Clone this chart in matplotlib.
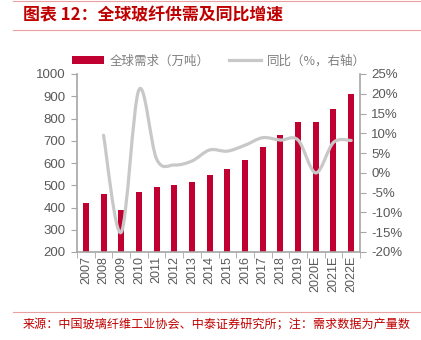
import matplotlib
matplotlib.use("Agg")
import matplotlib.pyplot as plt
import numpy as np
from matplotlib.path import Path
from matplotlib.patches import PathPatch
from matplotlib.lines import Line2D
from matplotlib.patches import Patch
from matplotlib.ticker import FuncFormatter

plt.rcParams['font.family'] = ['Liberation Sans', 'Noto Sans CJK SC', 'DejaVu Sans']

years = ['2007', '2008', '2009', '2010', '2011', '2012', '2013', '2014', '2015',
         '2016', '2017', '2018', '2019', '2020E', '2021E', '2022E']
demand = [420, 460, 390, 470, 490, 500, 515, 545, 575, 615, 670, 725, 783, 783, 841, 910]
yoy_years = years[1:]
yoy = [9.5, -15.0, 21.0, 3.5, 2.0, 3.0, 5.8, 5.5, 7.0, 8.9, 8.3, 8.3, 0.0, 7.7, 8.2]

title = '图表 12：全球玻纤供需及同比增速'
footer = '来源：中国玻璃纤维工业协会、中泰证券研究所；注：需求数据为产量数'
bar_label = '全球需求（万吨）'
line_label = '同比（%，右轴）'

bar_color = '#C00030'
line_color = '#C8C8C8'
tick_color = '#595959'
spine_color = '#A6A6A6'
red_text = '#C00000'
rule_color = '#E8A0A0'

fig = plt.figure(figsize=(4.21, 3.40), dpi=100)
ax = fig.add_axes([77/421, 1-252/340, (360-77)/421, (252-74)/340])
x = np.arange(len(years))
ax.bar(x, demand, width=0.34, color=bar_color, zorder=2)
ax.set_xlim(-0.5, len(years)-0.5)
ax.set_ylim(200, 1000)
ax.set_yticks(range(200, 1001, 100))
ax.set_xticks(x)
ax.set_xticklabels(years, rotation=90)
ax.set_xticks(np.arange(-0.5, len(years), 1), minor=True)
ax.tick_params(axis='x', which='major', length=0, pad=3, labelsize=9, labelcolor=tick_color)
ax.tick_params(axis='x', which='minor', length=4, color=spine_color, direction='out')
ax.tick_params(axis='y', length=4, color=spine_color, labelsize=9.5, labelcolor=tick_color, pad=4)
for s in ['top', 'right']:
    ax.spines[s].set_visible(False)
for s in ['left', 'bottom']:
    ax.spines[s].set_color(spine_color)
    ax.spines[s].set_linewidth(1.2)

ax2 = ax.twinx()
ax2.set_ylim(-20, 25)
ax2.set_yticks(range(-20, 26, 5))
ax2.yaxis.set_major_formatter(FuncFormatter(lambda v, p: f'{int(v)}%'))
ax2.tick_params(axis='y', length=4, color=spine_color, labelsize=9.5, labelcolor=tick_color, pad=4)
for s in ['top', 'left', 'bottom']:
    ax2.spines[s].set_visible(False)
ax2.spines['right'].set_color(spine_color)
ax2.spines['right'].set_linewidth(1.2)

# smooth line via cubic Bezier segments (Catmull-Rom style control points)
px = np.array([years.index(y) for y in yoy_years], dtype=float)
py = np.array(yoy, dtype=float)
P = np.column_stack([px, py])
verts = [tuple(P[0])]
codes = [Path.MOVETO]
n = len(P)
for i in range(n-1):
    p0 = P[i-1] if i > 0 else P[i]
    p1 = P[i]
    p2 = P[i+1]
    p3 = P[i+2] if i+2 < n else P[i+1]
    c1 = p1 + (p2 - p0)/6.0
    c2 = p2 - (p3 - p1)/6.0
    verts += [tuple(c1), tuple(c2), tuple(p2)]
    codes += [Path.CURVE4]*3
path = Path(verts, codes)
ax2.add_patch(PathPatch(path, facecolor='none', edgecolor=line_color, lw=2.3, zorder=3, capstyle='round'))

# legend
handles = [Patch(facecolor=bar_color, edgecolor='none'),
           Line2D([0], [0], color=line_color, lw=2.3)]
leg = fig.legend(handles, [bar_label, line_label], loc='center', bbox_to_anchor=(219/421, 1-61/340),
                 ncol=2, frameon=False, handlelength=2.6, handleheight=0.6,
                 columnspacing=1.5, handletextpad=0.45, borderpad=0, borderaxespad=0,
                 prop={'family': ['Noto Sans CJK SC', 'DejaVu Sans'], 'size': 9})
for t in leg.get_texts():
    t.set_color('#7F7F7F')

# title and rules
fig.add_artist(Line2D([13/421, 420/421], [1-1/340, 1-1/340], color=rule_color, lw=0.8))
fig.add_artist(Line2D([13/421, 420/421], [1-30/340, 1-30/340], color=rule_color, lw=0.8))
fig.add_artist(Line2D([13/421, 420/421], [1-312/340, 1-312/340], color=rule_color, lw=0.8))
fig.text(23/421, 1-15/340, title, color=red_text, fontsize=12.2, fontweight='bold', style='italic',
         va='center', ha='left', family=['Noto Sans CJK SC', 'DejaVu Sans'])
fig.text(23/421, 1-325/340, footer, color=red_text, fontsize=8.7, va='center', ha='left',
         family=['Noto Sans CJK SC', 'DejaVu Sans'])

fig.savefig('out.png', dpi=100)
